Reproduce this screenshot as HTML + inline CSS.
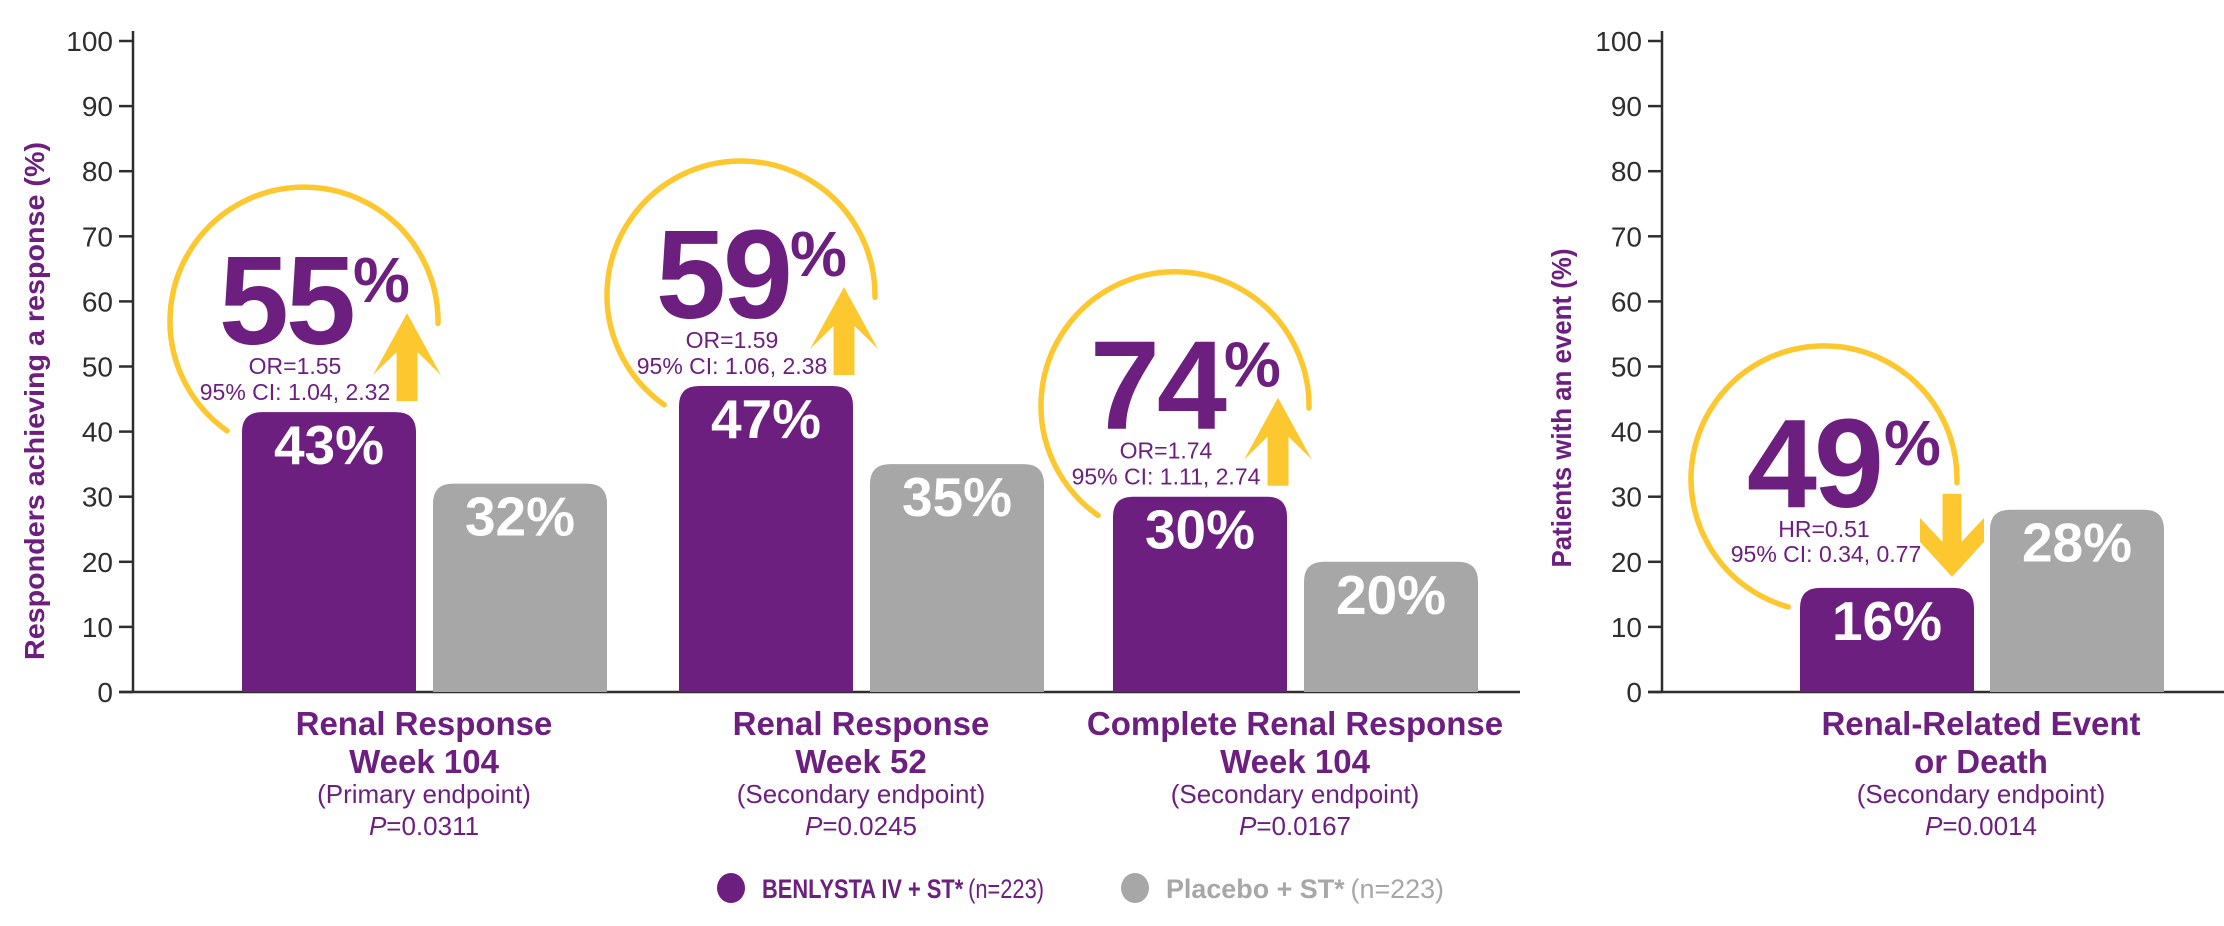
<!DOCTYPE html>
<html><head><meta charset="utf-8">
<style>
html,body{margin:0;padding:0;background:#fff;}
svg{display:block;font-family:"Liberation Sans",sans-serif;}
</style></head>
<body>
<svg id="chart" width="2224" height="926" viewBox="0 0 2224 926" xmlns="http://www.w3.org/2000/svg"></svg>
<script>
// ---- data ----
const categories = ["Renal Response|Week 104", "Renal Response|Week 52", "Complete Renal Response|Week 104"];
const endpoints = ["(Primary endpoint)", "(Secondary endpoint)", "(Secondary endpoint)"];
const pValues = ["=0.0311", "=0.0245", "=0.0167"];
const benlystaValues = [43, 47, 30];
const placeboValues = [32, 35, 20];
const improvementPct = [55, 59, 74];
const ratioText = ["OR=1.55", "OR=1.59", "OR=1.74"];
const ciText = ["95% CI: 1.04, 2.32", "95% CI: 1.06, 2.38", "95% CI: 1.11, 2.74"];
const eventCategories = ["Renal-Related Event|or Death"];
const eventEndpoints = ["(Secondary endpoint)"];
const eventPValues = ["=0.0014"];
const eventBenlysta = [16];
const eventPlacebo = [28];
const eventReduction = [49];
const eventRatio = ["HR=0.51"];
const eventCi = ["95% CI: 0.34, 0.77"];
const yTicks = [0,10,20,30,40,50,60,70,80,90,100];

const PURPLE="#6d1f80", GRAY="#a7a7a7", YEL="#fdc82f", INK="#2e2e2e";
const svg=document.getElementById('chart');
const NS="http://www.w3.org/2000/svg";
function el(tag, attrs, parent){const e=document.createElementNS(NS,tag);for(const k in attrs)e.setAttribute(k,attrs[k]);(parent||svg).appendChild(e);return e;}
function txt(s, attrs, parent){const e=el('text',attrs,parent);e.textContent=s;return e;}

const Y0=692, Y100=41;
function y(v){return Y0-(v/100)*(Y0-Y100);}

function axis(ax, xEnd, name){
  const g=el('g',{});
  
  
  el('line',{x1:ax,y1:31,x2:ax,y2:Y0,stroke:INK,'stroke-width':2.5},g);
  el('line',{x1:ax-14,y1:Y0,x2:xEnd,y2:Y0,stroke:INK,'stroke-width':2.5},g);
  yTicks.forEach(t=>{
    el('line',{x1:ax-14,y1:y(t),x2:ax,y2:y(t),stroke:INK,'stroke-width':2.5},g);
    const l=txt(String(t),{x:ax-20,y:y(t)+10,'text-anchor':'end','font-size':28,fill:INK},g);
    
    
  });
}
axis(133,1520,'left-y-axis');
axis(1662,2224,'right-y-axis');

let t1=txt("Responders achieving a response (%)",{x:0,y:0,transform:"translate(44,401) rotate(-90)",'text-anchor':'middle','font-size':28,'font-weight':'bold',fill:PURPLE,textLength:518,lengthAdjust:'spacingAndGlyphs'});

let t2=txt("Patients with an event (%)",{x:0,y:0,transform:"translate(1571,408) rotate(-90)",'text-anchor':'middle','font-size':28,'font-weight':'bold',fill:PURPLE,textLength:319,lengthAdjust:'spacingAndGlyphs'});


function barPath(x,w,top,r){
  return `M${x},${Y0} L${x},${top+r} Q${x},${top} ${x+r},${top} L${x+w-r},${top} Q${x+w},${top} ${x+w},${top+r} L${x+w},${Y0} Z`;
}
function bar(x,v,color,name){
  const T=y(v);
  const p=el('path',{d:barPath(x,174,T,20),fill:color});
  
  
  const l=txt(v+"%",{x:x+87,y:T+52,'text-anchor':'middle','font-size':55,'font-weight':'bold',fill:'#fff'});
  
  
  return T;
}
function arc(cx,cy,r,a0,a1){
  const p0=[cx+r*Math.cos(a0*Math.PI/180),cy+r*Math.sin(a0*Math.PI/180)];
  const p1=[cx+r*Math.cos(a1*Math.PI/180),cy+r*Math.sin(a1*Math.PI/180)];
  const large=(a1-a0)>180?1:0;
  const p=el('path',{d:`M${p0[0]},${p0[1]} A${r},${r} 0 ${large} 1 ${p1[0]},${p1[1]}`,fill:'none',stroke:YEL,'stroke-width':5.5,'stroke-linecap':'round'});
  
  
}
function catLabel(cx,cat,endp,pv,name){
  const g=el('g',{});
  
  
  const parts=cat.split('|');
  txt(parts[0],{x:cx,y:735,'text-anchor':'middle','font-size':33,'font-weight':'bold',fill:PURPLE},g);
  txt(parts[1],{x:cx,y:773,'text-anchor':'middle','font-size':33,'font-weight':'bold',fill:PURPLE},g);
  txt(endp,{x:cx,y:803,'text-anchor':'middle','font-size':26,fill:PURPLE},g);
  const p=el('text',{x:cx,y:835,'text-anchor':'middle','font-size':26,fill:PURPLE},g);
  const i=el('tspan',{'font-style':'italic'},p);i.textContent="P";
  const r=el('tspan',{},p);r.textContent=pv;
}

const groupStart=[242,679,1113];
categories.forEach((cat,i)=>{
  const x0=groupStart[i];
  const T=bar(x0,benlystaValues[i],PURPLE,'benlysta-bar-'+(i+1));
  bar(x0+191,placeboValues[i],GRAY,'placebo-bar-'+(i+1));
  const c=x0+87;
  arc(c-25,T-91,134,125,361);
  const n=txt(String(improvementPct[i]),{x:c+24,y:T-68,'text-anchor':'end','font-size':126,'font-weight':'bold',fill:PURPLE,'letter-spacing':-3});
  
  txt("%",{x:c+24,y:T-110,'font-size':64,'font-weight':'bold',fill:PURPLE});
  txt(ratioText[i],{x:c-34,y:T-38,'text-anchor':'middle','font-size':23,fill:PURPLE});
  txt(ciText[i],{x:c-34,y:T-12,'text-anchor':'middle','font-size':23,fill:PURPLE});
  const ax=c+78;
  const a=el('polygon',{points:`${ax},${T-99} ${ax+34},${T-37} ${ax+10.5},${T-60} ${ax+10.5},${T-11} ${ax-10.5},${T-11} ${ax-10.5},${T-60} ${ax-34},${T-37}`,fill:YEL});
  
  catLabel(x0+182,cat,endpoints[i],pValues[i],'category-label-'+(i+1));
});

eventCategories.forEach((cat,i)=>{
  const x0=1800;
  const T=bar(x0,eventBenlysta[i],PURPLE,'benlysta-event-bar');
  bar(x0+190,eventPlacebo[i],GRAY,'placebo-event-bar');
  const c=x0+87;
  arc(c-63,T-109,133,105.6,361.7);
  const n=txt(String(eventReduction[i]),{x:c-6,y:T-81,'text-anchor':'end','font-size':126,'font-weight':'bold',fill:PURPLE,'letter-spacing':-3});
  
  txt("%",{x:c-3,y:T-123,'font-size':64,'font-weight':'bold',fill:PURPLE});
  txt(eventRatio[i],{x:c-63,y:T-51,'text-anchor':'middle','font-size':23,fill:PURPLE});
  txt(eventCi[i],{x:c-61,y:T-26,'text-anchor':'middle','font-size':23,fill:PURPLE});
  const ax=c+65;
  const a=el('polygon',{points:`${ax-9.5},${T-94} ${ax+9.5},${T-94} ${ax+9.5},${T-46} ${ax+32},${T-70} ${ax+32},${T-46} ${ax},${T-11} ${ax-32},${T-46} ${ax-32},${T-70} ${ax-9.5},${T-46}`,fill:YEL});
  
  catLabel(x0+181,cat,eventEndpoints[i],eventPValues[i],'event-category-label');
});

const lg=el('g',{});


el('ellipse',{cx:731,cy:888,rx:14,ry:15,fill:PURPLE},lg);
const l1=txt("",{x:762,y:898,'font-size':27,fill:PURPLE},lg);
let s=el('tspan',{'font-weight':'bold'},l1);s.textContent="BENLYSTA IV + ST*";
s=el('tspan',{dx:6},l1);s.textContent="(n=223)";
l1.setAttribute('textLength',282);l1.setAttribute('lengthAdjust','spacingAndGlyphs');
el('ellipse',{cx:1135,cy:888,rx:14,ry:15,fill:GRAY},lg);
const l2=txt("",{x:1166,y:898,'font-size':27,fill:GRAY},lg);
s=el('tspan',{'font-weight':'bold'},l2);s.textContent="Placebo + ST*";
s=el('tspan',{dx:6},l2);s.textContent="(n=223)";
l2.setAttribute('textLength',278);l2.setAttribute('lengthAdjust','spacingAndGlyphs');
</script>
</body></html>
